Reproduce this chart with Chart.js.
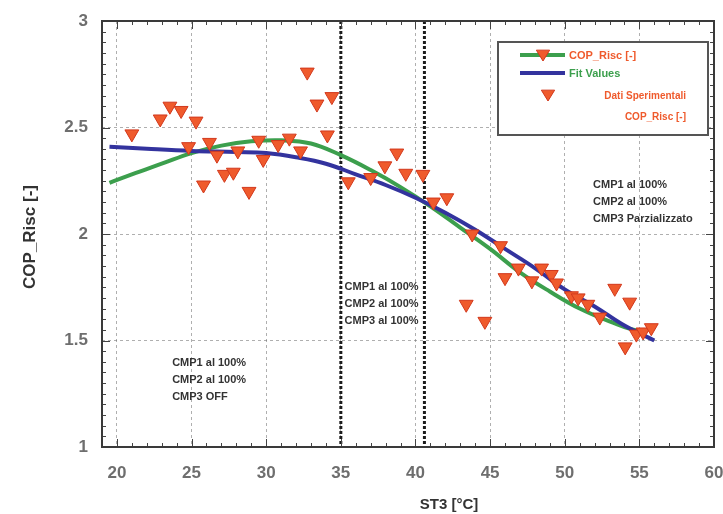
<!DOCTYPE html>
<html>
<head>
<meta charset="utf-8">
<title>COP_Risc vs ST3</title>
<script src="https://cdn.jsdelivr.net/npm/chart.js@4.4.1/dist/chart.umd.min.js"></script>
<style>
  html, body { margin: 0; padding: 0; background: #fff; }
  canvas { display: block; }
</style>
</head>
<body>
<canvas id="cop" width="723" height="514"></canvas>
<script>
/* ---- axis ticks ---- */
const xTicks = [20, 25, 30, 35, 40, 45, 50, 55, 60];
const yTicks = [1, 1.5, 2, 2.5, 3];

/* ---- measured points (ST3 °C -> COP_Risc) ---- */
const expX = [21.0, 22.9, 23.55, 24.3, 24.8, 25.3, 25.8, 26.2, 26.7, 27.2,
              27.8, 28.1, 28.85, 29.5, 29.8, 30.8, 31.55, 32.3, 32.75, 33.4,
              34.1, 34.4, 35.5, 37.0, 37.95, 38.75, 39.35, 40.5, 41.2, 42.1,
              43.4, 43.8, 44.65, 45.7, 46.0, 46.9, 47.8, 48.45, 49.1, 49.45,
              50.45, 50.9, 51.55, 52.35, 53.35, 54.05, 54.35, 54.8, 55.25, 55.8];
const expY = [2.47, 2.54, 2.60, 2.58, 2.41, 2.53, 2.23, 2.43, 2.37, 2.28,
              2.29, 2.39, 2.20, 2.44, 2.35, 2.42, 2.45, 2.39, 2.76, 2.61,
              2.465, 2.645, 2.245, 2.265, 2.32, 2.38, 2.285, 2.28, 2.15, 2.17,
              1.67, 2.00, 1.59, 1.945, 1.795, 1.84, 1.78, 1.84, 1.81, 1.77,
              1.71, 1.70, 1.67, 1.61, 1.745, 1.47, 1.68, 1.53, 1.54, 1.56];

/* ---- green curve ---- */
const copX = [19.5, 21, 23, 25, 27, 29, 31, 33, 35, 37, 39, 41, 43, 45, 47, 49, 51, 53, 55, 56];
const copY = [2.24, 2.28, 2.33, 2.38, 2.415, 2.435, 2.44, 2.425, 2.37, 2.30,
              2.22, 2.13, 2.03, 1.93, 1.82, 1.73, 1.65, 1.59, 1.545, 1.56];

/* ---- blue curve ---- */
const fitX = [19.5, 22, 25, 28, 30, 32, 34, 36, 38, 40, 42, 44, 46, 48, 50, 52, 54, 56];
const fitY = [2.41, 2.40, 2.39, 2.385, 2.38, 2.36, 2.33, 2.28, 2.23, 2.17,
              2.10, 2.02, 1.93, 1.84, 1.74, 1.66, 1.57, 1.50];

/* compressor regime boundaries and labels */
const regionBounds = [35, 40.6];
const notes = [
  { x: 23.7, y: 1.394, lines: ['CMP1 al 100%', 'CMP2 al 100%', 'CMP3 OFF'] },
  { x: 35.25, y: 1.752, lines: ['CMP1 al 100%', 'CMP2 al 100%', 'CMP3 al 100%'] },
  { x: 51.9, y: 2.23, lines: ['CMP1 al 100%', 'CMP2 al 100%', 'CMP3 Parzializzato'] }
];

const RED = '#ef5a2c';
const RED_EDGE = '#d2381c';
const GREEN = '#3c9f4d';
const BLUE = '#33339e';
const FONT = "'Liberation Sans', Arial, sans-serif";

const toPts = (xs, ys) => xs.map((x, i) => ({ x, y: ys[i] }));

function downTriangle(ctx, x, y, r) {
  ctx.beginPath();
  ctx.moveTo(x - r * 0.95, y - r * 0.55);
  ctx.lineTo(x + r * 0.95, y - r * 0.55);
  ctx.lineTo(x, y + r * 1.0);
  ctx.closePath();
  ctx.fillStyle = RED;
  ctx.strokeStyle = RED_EDGE;
  ctx.lineWidth = 1;
  ctx.fill();
  ctx.stroke();
}

/* frame, minor ticks, regime separators, notes and legend */
const decorPlugin = {
  id: 'decor',
  beforeDatasetsDraw(chart) {
    const { ctx, chartArea: a, scales: { x } } = chart;
    ctx.save();
    ctx.strokeStyle = '#1c1c1c';
    ctx.lineWidth = 3;
    ctx.setLineDash([3, 2]);
    regionBounds.forEach(v => {
      const px = x.getPixelForValue(v);
      ctx.beginPath();
      ctx.moveTo(px, a.top);
      ctx.lineTo(px, a.bottom);
      ctx.stroke();
    });
    ctx.restore();
  },
  afterDraw(chart) {
    const { ctx, chartArea: a, scales: { x, y } } = chart;
    ctx.save();

    // minor / major tick marks on all four sides
    ctx.strokeStyle = '#444';
    ctx.lineWidth = 1;
    for (let v = 19; v <= 60; v++) {
      const px = Math.round(x.getPixelForValue(v)) + 0.5;
      const len = v % 5 === 0 ? 8 : 4;
      ctx.beginPath();
      ctx.moveTo(px, a.bottom); ctx.lineTo(px, a.bottom - len);
      ctx.moveTo(px, a.top); ctx.lineTo(px, a.top + len);
      ctx.stroke();
    }
    for (let k = 0; k <= 40; k++) {
      const v = 1 + k * 0.05;
      const py = Math.round(y.getPixelForValue(v)) + 0.5;
      const len = k % 10 === 0 ? 8 : 4;
      ctx.beginPath();
      ctx.moveTo(a.left, py); ctx.lineTo(a.left + len, py);
      ctx.moveTo(a.right, py); ctx.lineTo(a.right - len, py);
      ctx.stroke();
    }

    // plot frame
    ctx.strokeStyle = '#3a3a3a';
    ctx.lineWidth = 2;
    ctx.strokeRect(a.left, a.top, a.right - a.left, a.bottom - a.top);

    // regime notes
    ctx.font = 'bold 11px ' + FONT;
    ctx.fillStyle = '#333';
    ctx.textAlign = 'left';
    ctx.textBaseline = 'middle';
    notes.forEach(n => {
      const px = x.getPixelForValue(n.x);
      const py = y.getPixelForValue(n.y);
      n.lines.forEach((t, i) => ctx.fillText(t, px, py + i * 17));
    });

    // axis titles
    ctx.fillStyle = '#333';
    ctx.font = 'bold 15px ' + FONT;
    ctx.textAlign = 'center';
    ctx.fillText('ST3 [°C]', 449, 505);
    ctx.save();
    ctx.translate(30, 237);
    ctx.rotate(-Math.PI / 2);
    ctx.font = 'bold 17px ' + FONT;
    ctx.fillText('COP_Risc [-]', 0, 0);
    ctx.restore();

    // legend box
    const lx = 498, ly = 42, lw = 210, lh = 93;
    ctx.fillStyle = '#fff';
    ctx.fillRect(lx, ly, lw, lh);
    ctx.strokeStyle = '#555';
    ctx.lineWidth = 2;
    ctx.strokeRect(lx, ly, lw, lh);

    ctx.lineWidth = 4;
    ctx.strokeStyle = GREEN;
    ctx.beginPath(); ctx.moveTo(520, 55); ctx.lineTo(565, 55); ctx.stroke();
    downTriangle(ctx, 543, 54, 7);
    ctx.lineWidth = 4;
    ctx.strokeStyle = BLUE;
    ctx.beginPath(); ctx.moveTo(520, 73); ctx.lineTo(565, 73); ctx.stroke();
    downTriangle(ctx, 548, 94, 7);

    ctx.font = 'bold 11px ' + FONT;
    ctx.textBaseline = 'middle';
    ctx.textAlign = 'left';
    ctx.fillStyle = RED;
    ctx.fillText(chart.data.datasets[1].label, 569, 56);
    ctx.fillStyle = GREEN;
    ctx.fillText(chart.data.datasets[2].label, 569, 74);
    ctx.font = 'bold 10px ' + FONT;
    ctx.textAlign = 'right';
    ctx.fillStyle = RED;
    ctx.fillText('Dati Sperimentali', 686, 96);
    ctx.fillText('COP_Risc [-]', 686, 117);

    ctx.restore();
  }
};

const tickFont = { family: FONT, size: 17, weight: 'bold' };

new Chart(document.getElementById('cop'), {
  type: 'scatter',
  data: {
    datasets: [
      {
        label: 'Dati Sperimentali COP_Risc [-]',
        data: toPts(expX, expY),
        pointStyle: 'triangle',
        rotation: 180,
        radius: 8,
        backgroundColor: RED,
        borderColor: RED_EDGE,
        borderWidth: 1,
        order: 0
      },
      {
        label: 'COP_Risc [-]',
        type: 'line',
        data: toPts(copX, copY),
        borderColor: GREEN,
        borderWidth: 4,
        pointRadius: 0,
        tension: 0.4,
        fill: false,
        order: 2
      },
      {
        label: 'Fit Values',
        type: 'line',
        data: toPts(fitX, fitY),
        borderColor: BLUE,
        borderWidth: 4,
        pointRadius: 0,
        tension: 0.4,
        fill: false,
        order: 1
      }
    ]
  },
  options: {
    responsive: false,
    animation: false,
    layout: { padding: { left: 0, right: 9, top: 21, bottom: 0 } },
    plugins: { legend: { display: false }, tooltip: { enabled: false } },
    scales: {
      x: {
        type: 'linear',
        min: 19,
        max: 60,
        afterBuildTicks: s => { s.ticks = xTicks.map(v => ({ value: v })); },
        afterFit: s => { s.height = 67; s.paddingLeft = 0; s.paddingRight = 0; },
        grid: { color: 'rgba(110,110,110,0.55)', drawTicks: false },
        border: { display: false, dash: [3, 3] },
        ticks: { padding: 16, color: '#6e6e6e', font: tickFont, callback: v => String(v) }
      },
      y: {
        min: 1,
        max: 3,
        afterBuildTicks: s => { s.ticks = yTicks.map(v => ({ value: v })); },
        afterFit: s => { s.width = 102; s.paddingTop = 0; s.paddingBottom = 0; },
        grid: { color: 'rgba(110,110,110,0.55)', drawTicks: false },
        border: { display: false, dash: [3, 3] },
        ticks: { padding: 14, color: '#6e6e6e', font: tickFont, callback: v => String(v) }
      }
    }
  },
  plugins: [decorPlugin]
});
</script>
</body>
</html>
